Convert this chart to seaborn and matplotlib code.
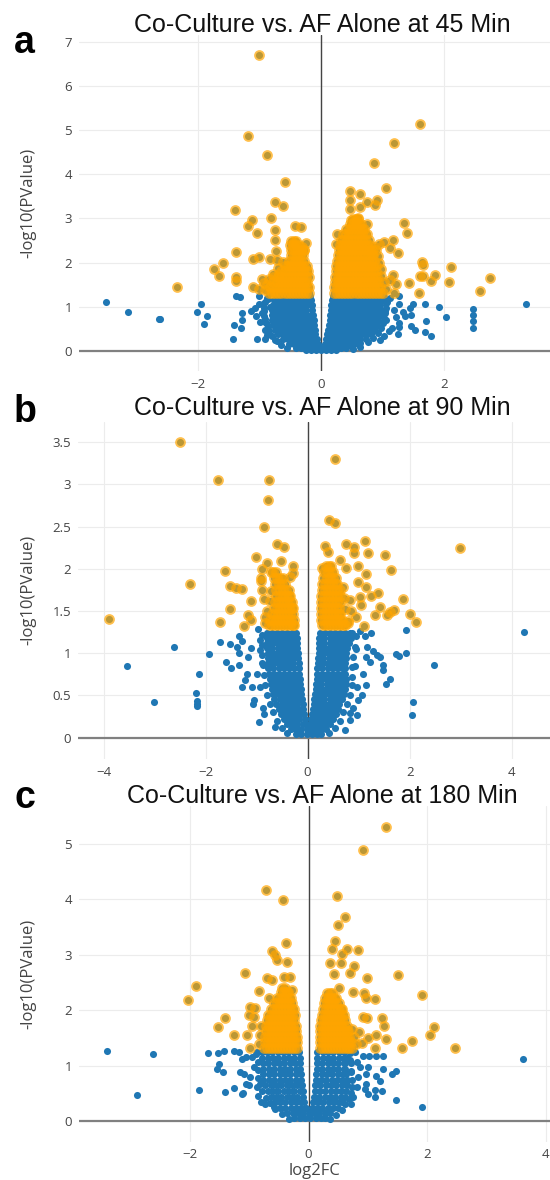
import numpy as np
import pandas as pd
import matplotlib
matplotlib.use('Agg')
import matplotlib.pyplot as plt
import seaborn as sns

# --- 1. Values (log2FC, -log10 p) ---
# scattered genes, 45 min
pts_45 = [
    (-3.48, 1.10), (-3.12, 0.88), (-2.63, 0.71), (-2.60, 0.72), (-2.01, 0.88), (-1.94, 1.07),
    (-1.84, 0.78), (-1.89, 0.61), (-1.42, 0.27), (-1.41, 0.59), (-1.28, 0.70), (-1.28, 0.85),
    (-1.29, 0.51), (-1.38, 1.25), (-1.31, 1.22), (-1.13, 0.90), (-1.07, 0.98), (-1.01, 1.07),
    (-1.06, 0.79), (-1.03, 0.26), (-0.90, 0.26), (-0.90, 0.73), (-0.71, 0.21), (-0.83, 1.00),
    (-0.94, 1.07), (-1.01, 1.25), (-0.99, 0.66), (-0.91, 0.47), (-0.95, 0.85), (-0.88, 0.60),
    (-0.86, 1.18), (-0.88, 0.35),
    (1.07, 1.11), (1.27, 1.24), (1.27, 1.06), (1.49, 1.06), (1.45, 0.98), (1.69, 1.06),
    (1.91, 0.99), (1.70, 0.67), (2.02, 0.76), (2.46, 0.95), (2.46, 0.81), (2.46, 0.68),
    (2.46, 0.52), (3.32, 1.07), (1.69, 0.42), (1.78, 0.33), (1.46, 0.82), (1.46, 0.57),
    (1.52, 0.47), (1.24, 0.39), (1.33, 0.88), (1.36, 0.79), (1.19, 0.92), (1.21, 0.77),
    (1.27, 0.62), (1.26, 0.54), (1.15, 0.52), (1.02, 0.33), (0.51, 0.11), (0.63, 0.18),
    (1.12, 1.20), (1.05, 0.70), (1.10, 0.45), (0.95, 0.25), (1.03, 0.90),
    # fringe of the dense cloud
    (-0.88, 1.20), (-0.90, 1.10), (-0.92, 0.98), (-0.93, 0.90), (-0.92, 0.78), (-0.90, 0.66),
    (-0.86, 0.55), (-0.84, 0.44), (-0.80, 0.33), (-0.74, 0.24), (-0.64, 0.14), (-0.55, 0.06),
    (1.02, 1.22), (1.06, 1.08), (1.05, 0.98), (1.04, 0.85), (1.02, 0.74), (1.00, 0.63),
    (0.97, 0.52), (0.92, 0.40), (0.85, 0.30), (0.76, 0.20), (0.64, 0.08), (0.52, 0.03),
    (-0.90, 1.38), (-0.88, 1.50), (-0.84, 1.62), (-0.78, 1.74), (-0.70, 1.88), (-0.62, 2.02),
    (1.06, 1.40), (1.02, 1.55), (0.98, 1.70), (0.97, 1.85), (0.94, 2.00), (0.92, 2.14),
    (0.88, 2.35),
    (-1.01, 6.70), (-1.18, 4.86), (-0.87, 4.43), (-0.58, 3.83), (-0.74, 3.37), (-0.61, 3.29),
    (-1.39, 3.20), (-0.81, 3.02), (-1.11, 2.97), (-1.18, 2.83), (-1.03, 2.67), (-0.75, 2.74),
    (-0.75, 2.51), (-0.42, 2.84), (-0.33, 2.80), (-1.38, 2.25), (-0.73, 2.27), (-1.58, 2.00),
    (-1.74, 1.85), (-1.65, 1.69), (-2.34, 1.45), (-1.37, 1.68), (-1.38, 1.58), (-1.10, 2.07),
    (-1.00, 2.12), (-1.10, 1.44), (-0.92, 1.54), (-0.83, 2.09), (-0.72, 2.06), (-0.30, 2.36),
    (-0.28, 2.28), (-0.68, 1.75), (-0.77, 1.68), (-1.00, 1.40), (-0.95, 1.62), (-0.25, 2.45),
    (1.61, 5.14), (1.19, 4.72), (0.86, 4.26), (1.06, 3.70), (0.47, 3.62), (0.63, 3.55),
    (0.47, 3.42), (0.74, 3.38), (0.91, 3.42), (0.87, 3.30), (0.47, 3.21), (0.63, 3.27),
    (0.49, 2.96), (0.60, 3.00), (0.75, 2.87), (1.34, 2.89), (1.39, 2.68), (0.26, 2.64),
    (0.25, 2.43), (1.02, 2.47), (1.16, 2.52), (1.12, 2.32), (1.25, 2.21), (0.89, 2.28),
    (0.94, 2.43), (1.64, 2.02), (1.66, 1.94), (2.11, 1.89), (1.84, 1.72), (1.60, 1.69),
    (1.65, 1.69), (1.79, 1.59), (2.08, 1.57), (2.73, 1.66), (2.58, 1.35), (1.59, 1.32),
    (1.42, 1.53), (1.22, 1.51), (1.19, 1.32), (1.17, 1.72), (1.12, 1.60),
]
# dense part of the cloud, one row per -log10 p level
core_45_left = [
    (1.25, [-0.72, -0.64, -0.56, -0.48, -0.40, -0.32, -0.24, -0.17]),
    (1.14, [-0.76, -0.68, -0.60, -0.52, -0.44, -0.36, -0.28, -0.20, -0.16]),
    (1.03, [-0.78, -0.70, -0.62, -0.54, -0.46, -0.38, -0.30, -0.22, -0.15]),
    (0.92, [-0.80, -0.72, -0.64, -0.56, -0.48, -0.40, -0.32, -0.24, -0.14]),
    (0.81, [-0.80, -0.72, -0.64, -0.56, -0.48, -0.40, -0.32, -0.24, -0.16, -0.13]),
    (0.70, [-0.79, -0.71, -0.63, -0.55, -0.47, -0.39, -0.31, -0.23, -0.15, -0.12]),
    (0.59, [-0.77, -0.69, -0.61, -0.53, -0.45, -0.37, -0.29, -0.21, -0.13, -0.11]),
    (0.48, [-0.74, -0.66, -0.58, -0.50, -0.42, -0.34, -0.26, -0.18, -0.10]),
    (0.37, [-0.70, -0.62, -0.54, -0.46, -0.38, -0.30, -0.22, -0.14, -0.09]),
    (0.26, [-0.62, -0.54, -0.46, -0.38, -0.30, -0.22, -0.14, -0.07]),
    (0.16, [-0.52, -0.44, -0.36, -0.28, -0.20, -0.12, -0.05]),
    (0.07, [-0.40, -0.32, -0.24, -0.16, -0.08, 0.00, 0.08, 0.16, 0.24, 0.32, 0.40]),
    (0.01, [-0.24, -0.16, -0.08, 0.00, 0.08, 0.16, 0.24]),
]
core_45_right = [
    (1.25, [0.19, 0.27, 0.35, 0.43, 0.51, 0.59, 0.67, 0.75, 0.83, 0.91, 0.95]),
    (1.14, [0.18, 0.26, 0.34, 0.42, 0.50, 0.58, 0.66, 0.74, 0.82, 0.90, 0.98]),
    (1.03, [0.17, 0.25, 0.33, 0.41, 0.49, 0.57, 0.65, 0.73, 0.81, 0.89, 0.96]),
    (0.92, [0.16, 0.24, 0.32, 0.40, 0.48, 0.56, 0.64, 0.72, 0.80, 0.88, 0.95]),
    (0.81, [0.15, 0.23, 0.31, 0.39, 0.47, 0.55, 0.63, 0.71, 0.79, 0.87, 0.95]),
    (0.70, [0.14, 0.22, 0.30, 0.38, 0.46, 0.54, 0.62, 0.70, 0.78, 0.86, 0.93]),
    (0.59, [0.13, 0.21, 0.29, 0.37, 0.45, 0.53, 0.61, 0.69, 0.77, 0.85, 0.90]),
    (0.48, [0.12, 0.20, 0.28, 0.36, 0.44, 0.52, 0.60, 0.68, 0.76, 0.84, 0.87]),
    (0.37, [0.10, 0.18, 0.26, 0.34, 0.42, 0.50, 0.58, 0.66, 0.74, 0.81]),
    (0.26, [0.08, 0.16, 0.24, 0.32, 0.40, 0.48, 0.56, 0.64, 0.73]),
    (0.16, [0.06, 0.14, 0.22, 0.30, 0.38, 0.46, 0.54, 0.62]),
]
sig_45_left = [
    (1.32, [-0.84, -0.79, -0.74, -0.69, -0.64, -0.59, -0.54, -0.49, -0.44, -0.39, -0.34, -0.29, -0.24, -0.19]),
    (1.44, [-0.82, -0.77, -0.72, -0.67, -0.62, -0.57, -0.52, -0.47, -0.42, -0.37, -0.32, -0.27, -0.22, -0.19]),
    (1.56, [-0.77, -0.72, -0.67, -0.62, -0.57, -0.52, -0.47, -0.42, -0.37, -0.32, -0.27, -0.22]),
    (1.68, [-0.70, -0.65, -0.60, -0.55, -0.50, -0.45, -0.40, -0.35, -0.30, -0.25, -0.20]),
    (1.80, [-0.64, -0.59, -0.54, -0.49, -0.44, -0.39, -0.34, -0.29, -0.24, -0.21]),
    (1.92, [-0.58, -0.53, -0.48, -0.43, -0.38, -0.33, -0.28, -0.23]),
    (2.04, [-0.52, -0.47, -0.42, -0.37, -0.32, -0.27]),
    (2.16, [-0.49, -0.44, -0.39, -0.34, -0.29]),
    (2.28, [-0.48, -0.43, -0.38, -0.33, -0.28]),
    (2.40, [-0.50, -0.45, -0.40, -0.35]),
    (2.50, [-0.48, -0.44, -0.40]),
]
sig_45_right = [
    (1.32, [0.21, 0.26, 0.31, 0.36, 0.41, 0.46, 0.51, 0.56, 0.61, 0.66, 0.71, 0.76, 0.81, 0.86, 0.91, 0.96, 1.00]),
    (1.44, [0.21, 0.26, 0.31, 0.36, 0.41, 0.46, 0.51, 0.56, 0.61, 0.66, 0.71, 0.76, 0.81, 0.86, 0.91, 0.96]),
    (1.56, [0.22, 0.27, 0.32, 0.37, 0.42, 0.47, 0.52, 0.57, 0.62, 0.67, 0.72, 0.77, 0.82, 0.87, 0.92]),
    (1.68, [0.23, 0.28, 0.33, 0.38, 0.43, 0.48, 0.53, 0.58, 0.63, 0.68, 0.73, 0.78, 0.83, 0.88, 0.91]),
    (1.80, [0.24, 0.29, 0.34, 0.39, 0.44, 0.49, 0.54, 0.59, 0.64, 0.69, 0.74, 0.79, 0.84, 0.89]),
    (1.92, [0.25, 0.30, 0.35, 0.40, 0.45, 0.50, 0.55, 0.60, 0.65, 0.70, 0.75, 0.80, 0.85, 0.89]),
    (2.04, [0.26, 0.31, 0.36, 0.41, 0.46, 0.51, 0.56, 0.61, 0.66, 0.71, 0.76, 0.81, 0.86]),
    (2.16, [0.27, 0.32, 0.37, 0.42, 0.47, 0.52, 0.57, 0.62, 0.67, 0.72, 0.77, 0.82, 0.85]),
    (2.28, [0.29, 0.34, 0.39, 0.44, 0.49, 0.54, 0.59, 0.64, 0.69, 0.74, 0.79, 0.83]),
    (2.40, [0.30, 0.35, 0.40, 0.45, 0.50, 0.55, 0.60, 0.65, 0.70, 0.75, 0.79]),
    (2.52, [0.32, 0.37, 0.42, 0.47, 0.52, 0.57, 0.62, 0.67, 0.72, 0.77]),
    (2.64, [0.36, 0.41, 0.46, 0.51, 0.56, 0.61, 0.66, 0.71, 0.74]),
    (2.76, [0.41, 0.46, 0.51, 0.56, 0.61, 0.66, 0.70]),
    (2.88, [0.47, 0.52, 0.57, 0.62, 0.65]),
    (2.98, [0.52, 0.56, 0.60]),
]

# scattered genes, 90 min
pts_90 = [
    (-3.54, 0.85), (-3.01, 0.42), (-2.61, 1.08), (-2.12, 0.75), (-2.19, 0.53), (-2.17, 0.43),
    (-2.17, 0.40), (-2.17, 0.37), (-1.94, 0.99), (-1.71, 1.13), (-1.59, 0.90), (-1.52, 1.11),
    (-1.50, 0.83), (-1.34, 1.20), (-1.29, 1.14), (-1.35, 1.00), (-1.39, 1.08), (-1.34, 0.86),
    (-1.29, 0.60), (-1.22, 0.68), (-1.16, 0.96), (-1.06, 0.45), (-1.07, 0.40), (-0.95, 0.19),
    (-0.63, 0.13), (-0.99, 0.76), (-0.93, 0.60), (-1.11, 1.06), (-0.98, 1.29), (-0.93, 1.16),
    (-0.94, 1.04), (-1.19, 0.76), (-1.09, 0.60), (-0.90, 0.88), (-0.88, 0.35), (-0.85, 0.28),
    (1.92, 1.28), (1.92, 1.00), (1.73, 0.99), (1.79, 0.97), (2.47, 0.86), (2.07, 0.42),
    (2.05, 0.27), (4.25, 1.25), (1.47, 0.86), (1.47, 0.80), (1.53, 0.64), (1.61, 0.70),
    (1.28, 1.03), (1.35, 0.98), (1.41, 0.96), (1.17, 1.08), (1.12, 1.20), (1.22, 0.90),
    (1.15, 0.96), (1.09, 0.76), (1.15, 0.62), (0.99, 0.45), (0.97, 0.27), (0.83, 0.21),
    (0.73, 0.09), (1.25, 1.24), (1.02, 1.26), (0.96, 0.60), (1.06, 0.51), (0.89, 0.35),
    (0.83, 0.29), (0.95, 1.05), (0.92, 0.85),
    # fringe of the dense cloud
    (-0.90, 1.22), (-0.90, 1.10), (-0.89, 0.98), (-0.88, 0.86), (-0.86, 0.74), (-0.83, 0.62),
    (-0.80, 0.50), (-0.74, 0.40), (-0.68, 0.30), (-0.60, 0.20), (-0.50, 0.12), (-0.40, 0.05),
    (0.95, 1.20), (0.92, 1.08), (0.88, 0.96), (0.86, 0.84), (0.86, 0.72), (0.86, 0.62),
    (0.83, 0.50), (0.77, 0.40), (0.70, 0.30), (0.63, 0.20), (0.54, 0.12), (0.42, 0.05),
    (-0.84, 1.36), (-0.80, 1.50), (-0.74, 1.62), (-0.72, 1.74),
    (0.80, 1.38), (0.74, 1.52), (0.72, 1.66), (0.70, 1.78),
    (-2.51, 3.50), (-1.75, 3.05), (-0.75, 3.05), (-0.78, 2.82), (-0.86, 2.50), (-0.60, 2.29),
    (-0.46, 2.26), (-1.01, 2.14), (-1.61, 1.97), (-2.31, 1.82), (-0.53, 2.09), (-0.29, 2.03),
    (-0.29, 1.95), (-0.80, 2.07), (-0.91, 1.89), (-3.90, 1.41), (-1.53, 1.80), (-1.40, 1.77),
    (-1.29, 1.76), (-1.11, 1.62), (-1.53, 1.53), (-1.71, 1.37), (-1.25, 1.32), (-1.17, 1.45),
    (-1.10, 1.40), (-0.90, 2.00), (-0.35, 1.90), (-0.92, 1.86), (-0.90, 1.75), (-0.86, 1.64),
    (-0.83, 1.43),
    (0.54, 3.30), (0.41, 2.58), (0.54, 2.54), (2.99, 2.25), (0.35, 2.27), (0.40, 2.20),
    (0.76, 2.29), (0.91, 2.26), (0.90, 2.19), (1.12, 2.33), (1.19, 2.19), (1.51, 2.17),
    (1.63, 1.99), (0.28, 2.01), (0.63, 2.11), (0.76, 2.01), (0.99, 2.04), (1.15, 1.94),
    (0.99, 1.84), (1.14, 1.78), (1.02, 1.67), (1.25, 1.68), (1.37, 1.72), (1.41, 1.55),
    (1.55, 1.45), (1.62, 1.49), (1.69, 1.51), (1.87, 1.64), (2.01, 1.47), (2.12, 1.37),
    (0.94, 1.43), (1.11, 1.32), (1.32, 1.45), (0.83, 1.63), (1.04, 1.57), (0.80, 1.36),
    (0.85, 1.50),
]
core_90_left = [
    (1.24, [-0.80, -0.70, -0.60, -0.50, -0.40, -0.30, -0.22]),
    (1.18, [-0.80, -0.70, -0.60, -0.50, -0.40, -0.30, -0.21]),
    (1.12, [-0.80, -0.70, -0.60, -0.50, -0.40, -0.30, -0.21]),
    (1.06, [-0.79, -0.69, -0.59, -0.49, -0.39, -0.29, -0.20]),
    (1.00, [-0.78, -0.68, -0.58, -0.48, -0.38, -0.28, -0.19]),
    (0.94, [-0.78, -0.68, -0.58, -0.48, -0.38, -0.28, -0.18]),
    (0.88, [-0.78, -0.68, -0.58, -0.48, -0.38, -0.28, -0.17]),
    (0.82, [-0.77, -0.67, -0.57, -0.47, -0.37, -0.27, -0.16]),
    (0.76, [-0.76, -0.66, -0.56, -0.46, -0.36, -0.26, -0.16]),
    (0.70, [-0.74, -0.64, -0.54, -0.44, -0.34, -0.24, -0.15]),
    (0.64, [-0.72, -0.62, -0.52, -0.42, -0.32, -0.22, -0.14]),
    (0.58, [-0.70, -0.60, -0.50, -0.40, -0.30, -0.20, -0.13]),
    (0.52, [-0.68, -0.58, -0.48, -0.38, -0.28, -0.18, -0.12]),
    (0.46, [-0.65, -0.55, -0.45, -0.35, -0.25, -0.15, -0.11]),
    (0.40, [-0.61, -0.51, -0.41, -0.31, -0.21, -0.10]),
    (0.34, [-0.57, -0.47, -0.37, -0.27, -0.17, -0.09]),
    (0.28, [-0.52, -0.42, -0.32, -0.22, -0.12, -0.08]),
    (0.22, [-0.46, -0.36, -0.26, -0.16, -0.06]),
    (0.16, [-0.40, -0.30, -0.20, -0.10, -0.04]),
    (0.10, [-0.32, -0.22, -0.12, -0.02, 0.08, 0.18, 0.28, 0.36]),
    (0.04, [-0.22, -0.12, -0.02, 0.08, 0.18, 0.26]),
]
core_90_right = [
    (1.24, [0.24, 0.34, 0.44, 0.54, 0.64, 0.74, 0.84, 0.87]),
    (1.18, [0.23, 0.33, 0.43, 0.53, 0.63, 0.73, 0.83, 0.85]),
    (1.12, [0.23, 0.33, 0.43, 0.53, 0.63, 0.73, 0.81]),
    (1.06, [0.22, 0.32, 0.42, 0.52, 0.62, 0.72, 0.78]),
    (1.00, [0.22, 0.32, 0.42, 0.52, 0.62, 0.72, 0.76]),
    (0.94, [0.21, 0.31, 0.41, 0.51, 0.61, 0.71, 0.75]),
    (0.88, [0.20, 0.30, 0.40, 0.50, 0.60, 0.70, 0.74]),
    (0.82, [0.19, 0.29, 0.39, 0.49, 0.59, 0.69, 0.73]),
    (0.76, [0.18, 0.28, 0.38, 0.48, 0.58, 0.68, 0.74]),
    (0.70, [0.18, 0.28, 0.38, 0.48, 0.58, 0.68, 0.75]),
    (0.64, [0.17, 0.27, 0.37, 0.47, 0.57, 0.67, 0.76]),
    (0.58, [0.16, 0.26, 0.36, 0.46, 0.56, 0.66, 0.74]),
    (0.52, [0.14, 0.24, 0.34, 0.44, 0.54, 0.64, 0.71]),
    (0.46, [0.13, 0.23, 0.33, 0.43, 0.53, 0.63, 0.67]),
    (0.40, [0.12, 0.22, 0.32, 0.42, 0.52, 0.62]),
    (0.34, [0.10, 0.20, 0.30, 0.40, 0.50, 0.59]),
    (0.28, [0.08, 0.18, 0.28, 0.38, 0.48, 0.55]),
    (0.22, [0.06, 0.16, 0.26, 0.36, 0.46, 0.50]),
    (0.16, [0.04, 0.14, 0.24, 0.34, 0.43]),
]
sig_90_left = [
    (1.33, [-0.76, -0.70, -0.64, -0.58, -0.52, -0.46, -0.40, -0.34, -0.28, -0.26]),
    (1.40, [-0.74, -0.68, -0.62, -0.56, -0.50, -0.44, -0.38, -0.32, -0.26]),
    (1.47, [-0.70, -0.64, -0.58, -0.52, -0.46, -0.40, -0.34, -0.28]),
    (1.54, [-0.66, -0.60, -0.54, -0.48, -0.42, -0.36, -0.30, -0.28]),
    (1.61, [-0.64, -0.58, -0.52, -0.46, -0.40, -0.34, -0.30]),
    (1.68, [-0.61, -0.55, -0.49, -0.43, -0.37, -0.35]),
    (1.75, [-0.61, -0.55, -0.49, -0.43, -0.37]),
    (1.82, [-0.63, -0.57, -0.51, -0.45]),
    (1.89, [-0.66, -0.60, -0.54, -0.48]),
    (1.96, [-0.72, -0.67, -0.62]),
]
sig_90_right = [
    (1.33, [0.28, 0.34, 0.40, 0.46, 0.52, 0.58, 0.64, 0.70, 0.73]),
    (1.40, [0.27, 0.33, 0.39, 0.45, 0.51, 0.57, 0.63, 0.67]),
    (1.47, [0.26, 0.32, 0.38, 0.44, 0.50, 0.56, 0.62, 0.64]),
    (1.54, [0.26, 0.32, 0.38, 0.44, 0.50, 0.56, 0.62]),
    (1.61, [0.27, 0.33, 0.39, 0.45, 0.51, 0.57, 0.63]),
    (1.68, [0.27, 0.33, 0.39, 0.45, 0.51, 0.57, 0.63]),
    (1.75, [0.28, 0.34, 0.40, 0.46, 0.52, 0.58, 0.63]),
    (1.82, [0.29, 0.35, 0.41, 0.47, 0.53, 0.58]),
    (1.89, [0.31, 0.37, 0.43, 0.49, 0.55]),
    (1.96, [0.33, 0.39, 0.45, 0.50]),
    (2.03, [0.36, 0.41, 0.45]),
]

# scattered genes, 180 min
pts_180 = [
    (-3.40, 1.26), (-2.63, 1.20), (-2.90, 0.46), (-1.84, 0.55), (-1.69, 1.23), (-1.52, 1.23),
    (-1.43, 1.26), (-1.51, 1.03), (-1.55, 0.93), (-1.45, 0.88), (-1.41, 0.52), (-1.26, 0.60),
    (-1.12, 0.49), (-1.10, 0.51), (-1.26, 1.27), (-1.18, 1.24), (-1.12, 1.12), (-1.06, 1.15),
    (-1.15, 0.88), (-1.09, 0.85), (-1.06, 0.67), (-1.01, 0.64), (-0.81, 0.34), (-0.73, 0.31),
    (-0.59, 0.25), (-0.92, 0.97), (-0.98, 0.79), (-0.87, 0.61), (-0.95, 1.15), (-0.87, 1.24),
    (-0.85, 0.45),
    (3.62, 1.12), (1.92, 0.25), (1.48, 0.37), (1.48, 0.91), (1.40, 0.84), (1.26, 0.94),
    (1.24, 0.54), (1.12, 0.43), (0.79, 1.24), (0.92, 1.17), (1.02, 1.17), (1.14, 1.17),
    (1.25, 1.17), (0.82, 1.06), (0.86, 0.97), (1.00, 0.97), (0.97, 0.85), (1.13, 0.82),
    (1.20, 0.73), (0.97, 0.67), (0.95, 0.58), (1.12, 0.55), (1.00, 0.49), (0.75, 0.43),
    (0.72, 0.31), (0.83, 0.79), (0.81, 0.61), (0.70, 1.10), (0.72, 0.90),
    # fringe of the dense cloud
    (-0.88, 1.20), (-0.86, 1.06), (-0.85, 0.92), (-0.85, 0.78), (-0.82, 0.66), (-0.78, 0.54),
    (-0.72, 0.42), (-0.65, 0.32), (-0.56, 0.22), (-0.45, 0.12), (-0.33, 0.04),
    (0.70, 1.22), (0.72, 1.04), (0.72, 0.88), (0.73, 0.74), (0.73, 0.62), (0.71, 0.50),
    (0.68, 0.40), (0.62, 0.30), (0.56, 0.20), (0.46, 0.10), (0.36, 0.03),
    (-0.84, 1.38), (-0.82, 1.55), (-0.80, 1.72), (0.80, 1.38), (0.76, 1.52), (0.74, 1.66),
    (-0.72, 4.16), (-0.43, 3.98), (-0.38, 3.21), (-0.62, 3.07), (-0.57, 3.00), (-0.53, 2.91),
    (-0.37, 2.87), (-1.08, 2.67), (-2.04, 2.18), (-1.90, 2.44), (-1.53, 1.70), (-1.41, 1.86),
    (-1.25, 1.55), (-0.84, 2.35), (-0.99, 2.06), (-0.91, 2.04), (-1.01, 1.92), (-0.92, 1.88),
    (-1.04, 1.55), (-0.98, 1.32), (-0.95, 1.71), (-0.70, 2.57), (-0.61, 2.54), (-0.41, 2.59),
    (-0.31, 2.60), (-0.28, 2.36), (-0.67, 2.21),
    (1.30, 5.30), (0.91, 4.89), (0.48, 4.05), (0.61, 3.67), (0.49, 3.54), (0.44, 3.25),
    (0.40, 3.11), (0.64, 3.11), (0.83, 3.09), (0.57, 3.02), (0.36, 2.84), (0.54, 2.84),
    (0.76, 2.79), (1.50, 2.63), (0.43, 2.65), (0.70, 2.67), (0.98, 2.58), (1.92, 2.27),
    (0.75, 2.33), (0.94, 2.30), (0.97, 2.22), (1.12, 2.20), (0.51, 2.39), (0.91, 1.88),
    (0.99, 1.86), (1.23, 1.86), (1.27, 1.72), (1.14, 1.55), (1.30, 1.47), (1.01, 1.49),
    (1.12, 1.32), (1.58, 1.32), (1.74, 1.44), (2.05, 1.55), (2.12, 1.70), (2.47, 1.32),
    (0.85, 1.60), (0.90, 1.40),
]
core_180_left = [
    (1.24, [-0.79, -0.70, -0.61, -0.52, -0.43, -0.34, -0.25, -0.16]),
    (1.14, [-0.78, -0.69, -0.60, -0.51, -0.42, -0.33, -0.24, -0.15]),
    (1.04, [-0.77, -0.68, -0.59, -0.50, -0.41, -0.32, -0.23, -0.15]),
    (0.94, [-0.76, -0.67, -0.58, -0.49, -0.40, -0.31, -0.22, -0.14]),
    (0.84, [-0.76, -0.67, -0.58, -0.49, -0.40, -0.31, -0.22, -0.13]),
    (0.74, [-0.76, -0.67, -0.58, -0.49, -0.40, -0.31, -0.22, -0.12]),
    (0.64, [-0.73, -0.64, -0.55, -0.46, -0.37, -0.28, -0.19, -0.11]),
    (0.54, [-0.69, -0.60, -0.51, -0.42, -0.33, -0.24, -0.15, -0.10]),
    (0.44, [-0.64, -0.55, -0.46, -0.37, -0.28, -0.19, -0.09]),
    (0.34, [-0.57, -0.48, -0.39, -0.30, -0.21, -0.12, -0.07]),
    (0.24, [-0.48, -0.39, -0.30, -0.21, -0.12, -0.05]),
    (0.14, [-0.36, -0.27, -0.18, -0.09, 0.00, 0.09, 0.18, 0.27, 0.36]),
    (0.05, [-0.24, -0.15, -0.06, 0.03, 0.12, 0.21, 0.28]),
]
core_180_right = [
    (1.24, [0.15, 0.24, 0.33, 0.42, 0.51, 0.60]),
    (1.14, [0.15, 0.24, 0.33, 0.42, 0.51, 0.60, 0.64]),
    (1.04, [0.14, 0.23, 0.32, 0.41, 0.50, 0.59, 0.62]),
    (0.94, [0.14, 0.23, 0.32, 0.41, 0.50, 0.59, 0.62]),
    (0.84, [0.13, 0.22, 0.31, 0.40, 0.49, 0.58, 0.63]),
    (0.74, [0.12, 0.21, 0.30, 0.39, 0.48, 0.57, 0.64]),
    (0.64, [0.11, 0.20, 0.29, 0.38, 0.47, 0.56, 0.64]),
    (0.54, [0.10, 0.19, 0.28, 0.37, 0.46, 0.55, 0.63]),
    (0.44, [0.09, 0.18, 0.27, 0.36, 0.45, 0.54, 0.61]),
    (0.34, [0.07, 0.16, 0.25, 0.34, 0.43, 0.52, 0.57]),
    (0.24, [0.05, 0.14, 0.23, 0.32, 0.41, 0.49]),
]
sig_180_left = [
    (1.32, [-0.75, -0.70, -0.65, -0.60, -0.55, -0.50, -0.45, -0.40, -0.35, -0.30, -0.25, -0.20]),
    (1.42, [-0.74, -0.69, -0.64, -0.59, -0.54, -0.49, -0.44, -0.39, -0.34, -0.29, -0.24, -0.20]),
    (1.52, [-0.73, -0.68, -0.63, -0.58, -0.53, -0.48, -0.43, -0.38, -0.33, -0.28, -0.23, -0.20]),
    (1.62, [-0.72, -0.67, -0.62, -0.57, -0.52, -0.47, -0.42, -0.37, -0.32, -0.27, -0.22]),
    (1.72, [-0.71, -0.66, -0.61, -0.56, -0.51, -0.46, -0.41, -0.36, -0.31, -0.26, -0.22]),
    (1.82, [-0.70, -0.65, -0.60, -0.55, -0.50, -0.45, -0.40, -0.35, -0.30, -0.25]),
    (1.92, [-0.68, -0.63, -0.58, -0.53, -0.48, -0.43, -0.38, -0.33, -0.28, -0.23]),
    (2.02, [-0.63, -0.58, -0.53, -0.48, -0.43, -0.38, -0.33, -0.28, -0.25]),
    (2.12, [-0.58, -0.53, -0.48, -0.43, -0.38, -0.33, -0.28]),
    (2.22, [-0.53, -0.48, -0.43, -0.38, -0.33, -0.30]),
    (2.32, [-0.47, -0.42, -0.37, -0.34]),
    (2.40, [-0.44, -0.40]),
]
sig_180_right = [
    (1.32, [0.19, 0.24, 0.29, 0.34, 0.39, 0.44, 0.49, 0.54, 0.59, 0.64, 0.69, 0.73]),
    (1.42, [0.19, 0.24, 0.29, 0.34, 0.39, 0.44, 0.49, 0.54, 0.59, 0.64, 0.69, 0.71]),
    (1.52, [0.19, 0.24, 0.29, 0.34, 0.39, 0.44, 0.49, 0.54, 0.59, 0.64, 0.68]),
    (1.62, [0.19, 0.24, 0.29, 0.34, 0.39, 0.44, 0.49, 0.54, 0.59, 0.64, 0.66]),
    (1.72, [0.20, 0.25, 0.30, 0.35, 0.40, 0.45, 0.50, 0.55, 0.60, 0.64]),
    (1.82, [0.21, 0.26, 0.31, 0.36, 0.41, 0.46, 0.51, 0.56, 0.61]),
    (1.92, [0.22, 0.27, 0.32, 0.37, 0.42, 0.47, 0.52, 0.57, 0.60]),
    (2.02, [0.24, 0.29, 0.34, 0.39, 0.44, 0.49, 0.54, 0.56]),
    (2.12, [0.26, 0.31, 0.36, 0.41, 0.46, 0.52]),
    (2.22, [0.28, 0.33, 0.38, 0.43, 0.46]),
    (2.30, [0.31, 0.36, 0.40]),
]

titles = ['Co-Culture vs. AF Alone at 45 Min',
          'Co-Culture vs. AF Alone at 90 Min',
          'Co-Culture vs. AF Alone at 180 Min']
panel_letters = ['a', 'b', 'c']
p_cutoff = 0.05


# --- 2. Build one frame per time point ---
def volcano_frame(points, *row_blocks):
    rec = list(points)
    for block in row_blocks:
        for y, xs in block:
            rec += [(x, y) for x in xs]
    df = pd.DataFrame(rec, columns=['log2FC', 'nlog10p'])
    df['sig'] = df['nlog10p'] > -np.log10(p_cutoff)
    return df


df_45 = volcano_frame(pts_45, core_45_left, core_45_right, sig_45_left, sig_45_right)
df_90 = volcano_frame(pts_90, core_90_left, core_90_right, sig_90_left, sig_90_right)
df_180 = volcano_frame(pts_180, core_180_left, core_180_right, sig_180_left, sig_180_right)

# --- 3. Plot ---
sns.set_style('white')
plt.rcParams['font.family'] = ['Open Sans', 'DejaVu Sans']

fig = plt.figure(figsize=(5.5, 11.8), dpi=100)
W, H = 550, 1180


def px_axes(left, top, right, bottom):
    return fig.add_axes([left / W, 1 - bottom / H, (right - left) / W, (bottom - top) / H])


panels = [
    # df, axes box (px), xlim, ylim, xticks, yticks, ytick labels
    (df_45, (79, 35, 550, 370.6), (-3.92, 3.71), (-0.45, 7.16), [-2, 0, 2],
     list(range(8)), [str(v) for v in range(8)]),
    (df_90, (78, 421.6, 550, 758.8), (-4.5, 4.75), (-0.25, 3.745), [-4, -2, 0, 2, 4],
     [0, 0.5, 1, 1.5, 2, 2.5, 3, 3.5], ['0', '0.5', '1', '1.5', '2', '2.5', '3', '3.5']),
    (df_180, (79, 806, 550, 1141.5), (-3.87, 4.07), (-0.37, 5.68), [-2, 0, 2, 4],
     list(range(6)), [str(v) for v in range(6)]),
]
title_y = [31.6, 415, 803]
letter_y = [52.6, 421.6, 808]

for i, (df, box, xlim, ylim, xt, yt, ytl) in enumerate(panels):
    ax = px_axes(*box)
    ax.set_xlim(xlim)
    ax.set_ylim(ylim)
    ax.set_xticks(xt)
    ax.set_yticks(yt)
    ax.set_yticklabels(ytl)
    ax.grid(True, color='#ececec', lw=0.8)
    ax.set_axisbelow(True)
    ax.axvline(0, color='#444444', lw=1.0, zorder=1)
    ax.axhline(0, color='#808080', lw=1.6, zorder=1)

    sns.scatterplot(data=df, x='log2FC', y='nlog10p', color='#1f77b4', s=26,
                    linewidth=0, ax=ax, zorder=2, legend=False)
    sns.scatterplot(data=df[df['sig']], x='log2FC', y='nlog10p', color='#FFA500', s=60,
                    alpha=0.7, linewidth=0, ax=ax, zorder=3, legend=False)

    for sp in ax.spines.values():
        sp.set_visible(False)
    ax.tick_params(length=0, labelsize=9.5, colors='#444444', pad=5)
    ax.set_ylabel('-log10(PValue)', fontsize=12, color='#444444')
    ax.yaxis.set_label_coords((36 - box[0]) / (box[2] - box[0]), 0.5)
    if i == 2:
        ax.set_xlabel('log2FC', fontsize=12, color='#444444', labelpad=1)
    else:
        ax.set_xlabel('')

    fig.text(322 / W, 1 - title_y[i] / H, titles[i], ha='center', va='baseline',
             fontsize=18, color='#111111', family=['Liberation Sans', 'DejaVu Sans'])
    fig.text(14 / W, 1 - letter_y[i] / H, panel_letters[i], ha='left', va='baseline',
             fontsize=27, fontweight='bold', color='black',
             family=['Liberation Sans', 'DejaVu Sans'])

fig.savefig('out.png', dpi=100, facecolor='white')
